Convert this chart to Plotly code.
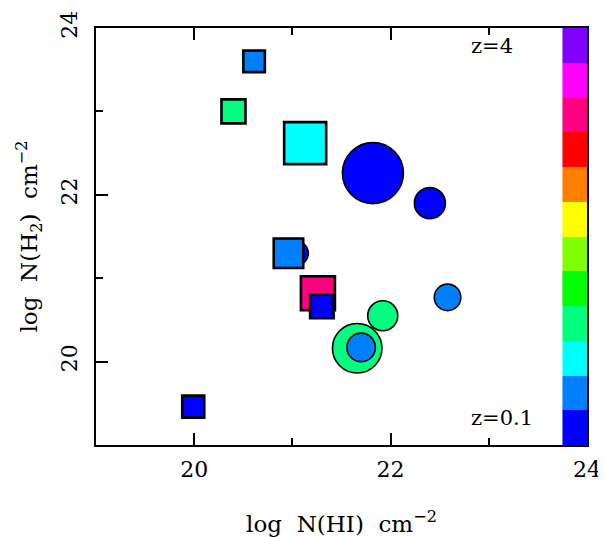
import plotly.graph_objects as go

# ---- data ----
# colour bins of the redshift bar (bottom z=0.1 -> top z=4)
bin_colors = ["#0000FF", "#0080FF", "#00FFFF", "#00FF80", "#00FF00", "#80FF00",
              "#FFFF00", "#FF8000", "#FF0000", "#FF0080", "#FF00FF", "#8000FF"]

log_nhi = [21.04, 20.96, 20.61, 20.40, 21.13, 21.82, 22.40, 21.26, 21.30, 21.92, 22.58, 21.66, 21.70, 19.99]
log_nh2 = [21.30, 21.30, 23.60, 23.00, 22.62, 22.26, 21.90, 20.82, 20.66, 20.55, 20.77, 20.16, 20.17, 19.46]
z_bin   = [0, 1, 1, 3, 2, 0, 0, 9, 0, 3, 1, 3, 1, 0]
shape   = ["circle", "square", "square", "square", "square", "circle", "circle",
           "square", "square", "circle", "circle", "circle", "circle", "square"]
msize   = [24, 29.5, 21.5, 24, 42, 61, 31, 34, 23.5, 30, 26.5, 49.5, 28.5, 22]

x_ticks = [20, 22, 24]
y_ticks = [20, 22, 24]
x_range = [19, 24]
y_range = [19, 24]
z_labels = ["z=4", "z=0.1"]

FONT = "DejaVu Serif"

fig = go.Figure()

# colour bar drawn as heatmap inside the frame (x 23.75 .. 24)
nb = len(bin_colors)
cscale = [[i / (nb - 1), c] for i, c in enumerate(bin_colors)]
fig.add_trace(go.Heatmap(
    z=[[i] for i in range(nb)],
    x0=23.875, dx=0.25,
    y0=y_range[0] + (y_range[1] - y_range[0]) / nb / 2, dy=(y_range[1] - y_range[0]) / nb,
    colorscale=cscale, zmin=0, zmax=nb - 1, showscale=False, hoverinfo="skip"))

lw = [1.6 if s == "circle" else 2.6 for s in shape]
fig.add_trace(go.Scatter(
    x=log_nhi, y=log_nh2, mode="markers",
    marker=dict(symbol=shape, size=msize, color=[bin_colors[b] for b in z_bin],
                line=dict(color="black", width=lw), opacity=1),
    showlegend=False))

fig.add_annotation(x=22.80, y=23.78, text=z_labels[0], showarrow=False, xanchor="left",
                   font=dict(family=FONT, size=21, color="black"))
fig.add_annotation(x=22.80, y=19.32, text=z_labels[1], showarrow=False, xanchor="left",
                   font=dict(family=FONT, size=21, color="black"))

axis_common = dict(showgrid=False, zeroline=False, showline=True, linecolor="black", linewidth=2,
                   mirror="allticks", ticks="inside", ticklen=12, tickwidth=2, tickcolor="black",
                   layer="below traces", automargin=False,
                   tickfont=dict(family=FONT, size=22, color="black"),
                   minor=dict(ticks="inside", ticklen=7, tickwidth=2, tickcolor="black", dtick=1))

fig.update_xaxes(range=x_range, tickvals=x_ticks, ticklabelstandoff=4,
                 title=dict(text="log  N(HI)  cm<sup>−2</sup>", standoff=38,
                            font=dict(family=FONT, size=23, color="black")),
                 **axis_common)
fig.update_yaxes(range=y_range, tickvals=y_ticks, tickangle=270, ticklabelstandoff=8,
                 title=dict(text="log  N(H<sub>2</sub>)  cm<sup>−2</sup>", standoff=13,
                            font=dict(family=FONT, size=23, color="black")),
                 **axis_common)

# page body has an 8px default margin: shrink the figure so the plot box lands where the reference has it
fig.update_layout(width=598, height=529, margin=dict(l=88, r=19, t=20, b=92),
                  plot_bgcolor="white", paper_bgcolor="white", showlegend=False)

fig.write_html("out.html")
